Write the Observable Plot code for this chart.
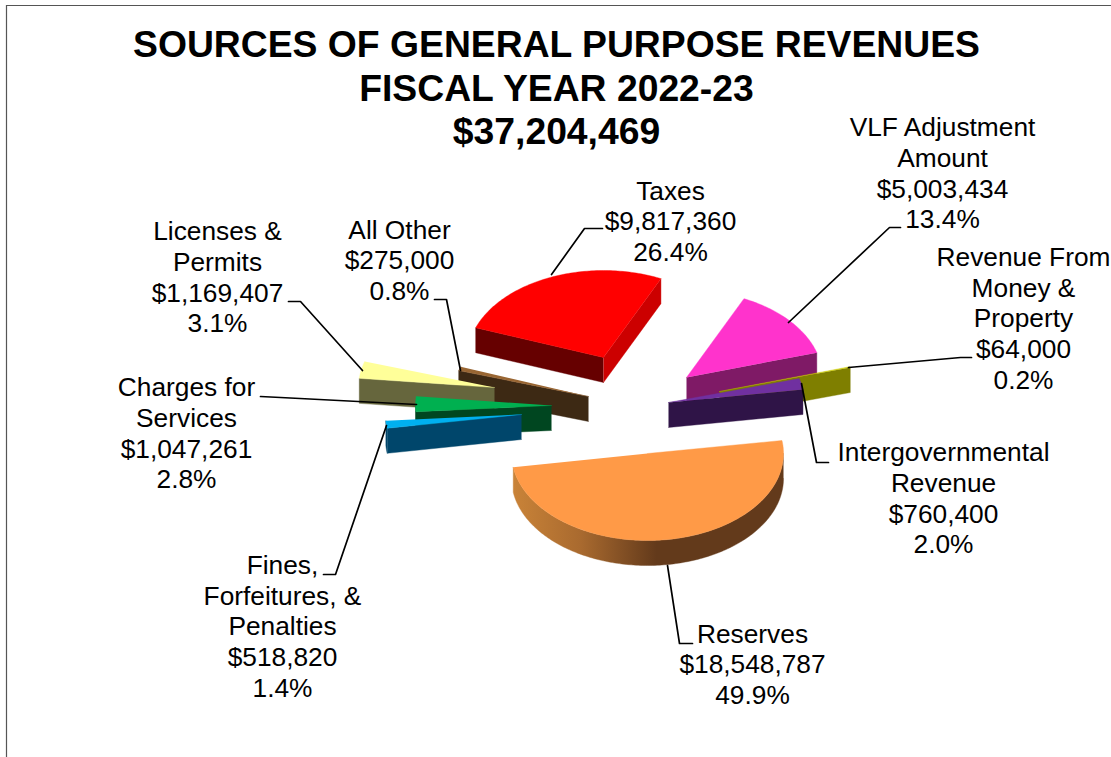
<!DOCTYPE html>
<html>
<head>
<meta charset="utf-8">
<style>html,body{margin:0;padding:0;background:#fff}</style>
<script src="https://cdn.jsdelivr.net/npm/d3@7"></script>
<script src="https://cdn.jsdelivr.net/npm/@observablehq/plot@0.6"></script>
</head>
<body>
<script>
// ---- data ----
const titleLines = ["SOURCES OF GENERAL PURPOSE REVENUES", "FISCAL YEAR 2022-23", "$37,204,469"];
const categories = ["Taxes", "VLF Adjustment\nAmount", "Revenue From\nMoney &\nProperty", "Intergovernmental\nRevenue",
  "Reserves", "Fines,\nForfeitures, &\nPenalties", "Charges for\nServices", "Licenses &\nPermits", "All Other"];
const amounts = [9817360, 5003434, 64000, 760400, 18548787, 518820, 1047261, 1169407, 275000];
const percents = ["26.4%", "13.4%", "0.2%", "2.0%", "49.9%", "1.4%", "2.8%", "3.1%", "0.8%"];

// ---- styles ----
const topColors = ["#ff0000", "#ff33cc", "#cccc00", "#7030a0", "#ff9a47", "#00b0f0", "#00b050", "#ffff99", "#996633"];
const sideColors = ["#660000", "#7f1a66", "#7f7f00", "#2f1447", "url(#rim)", "#00466b", "#004620", "#66663d", "#3d2914"];
const endWallColors = ["#cc0000", "#7f1a66", "#7f7f00", "#2f1447", "#633a1b", "#00466b", "#004620", "#66663d", "#3d2914"];
const drawOrder = [0, 1, 2, 3, 8, 7, 6, 5, 4];

// ---- layout of the exploded pie ----
const pieX = 637, pieY = 409, radiusX = 136, radiusY = 87, depth = 25, firstAngle = -70;
const explodeX = [-34, 49, 82, 31, 10, -116, -86, -143, -49];
const explodeY = [-52, -32, -18, -7, 44, 5, -4, -22, -13];
const labelX = [670, 942, 1023, 943, 752, 282, 186, 217, 399];
const labelY = [220, 172, 317, 497, 663, 625, 432, 276, 259];
const leaderPaths = [
  [[602, 228], [584, 228], [551, 274]],
  [[900, 227], [889, 227], [788, 322]],
  [[971, 357], [960, 357], [848, 367]],
  [[828, 462], [816, 462], [801, 383]],
  [[692, 643], [679, 643], [667, 565]],
  [[323, 574], [335, 574], [386, 425]],
  [[260, 396], [280, 397], [416, 404]],
  [[288, 301], [300, 301], [362, 370]],
  [[434, 299], [446, 299], [460, 370]]
];
const titleY = [45, 89, 132];

// ---- slice geometry from the values ----
const total = d3.sum(amounts);
const rad = Math.PI / 180;
let running = firstAngle;
const slices = amounts.map((v, i) => {
  const a0 = running, a1 = running + v / total * 360;
  running = a1;
  return {i, a0, a1, cx: pieX + explodeX[i], cy: pieY + explodeY[i]};
});
const rimPoint = (s, a, drop = 0) => ({
  x: s.cx + radiusX * Math.sin(a * rad),
  y: s.cy - radiusY * Math.cos(a * rad) + drop
});
const arc = (s, a0, a1, drop = 0) => {
  const n = Math.max(2, Math.ceil(Math.abs(a1 - a0)));
  return d3.range(n + 1).map(k => rimPoint(s, a0 + (a1 - a0) * k / n, drop));
};
const apex = (s, drop = 0) => ({x: s.cx, y: s.cy + drop});
const polygon = (pts, fill) => Plot.line(pts, {x: "x", y: "y", fill, stroke: fill, strokeWidth: 0.4, curve: "linear"});

const sliceMarks = [];
for (const i of drawOrder) {
  const s = slices[i];
  const norm = a => ((a % 360) + 360) % 360;
  // outer rim: the parts facing the viewer (90..270 degrees)
  const lo = Math.max(norm(s.a0), 90), hi = Math.min(norm(s.a0) + (s.a1 - s.a0), 270);
  if (hi > lo) sliceMarks.push(polygon([...arc(s, lo, hi), ...arc(s, hi, lo, depth)], sideColors[i]));
  // radial cut faces
  if (Math.sin(s.a0 * rad) < 0) {
    const p = rimPoint(s, s.a0), q = rimPoint(s, s.a0, depth);
    sliceMarks.push(polygon([apex(s), p, q, apex(s, depth)], sideColors[i]));
  }
  if (Math.sin(s.a1 * rad) > 0) {
    const p = rimPoint(s, s.a1), q = rimPoint(s, s.a1, depth);
    sliceMarks.push(polygon([apex(s), p, q, apex(s, depth)], endWallColors[i]));
  }
  // top surface
  sliceMarks.push(polygon([apex(s), ...arc(s, s.a0, s.a1)], topColors[i]));
}

const labels = categories.map((c, i) => ({
  text: `${c}\n${d3.format("$,")(amounts[i])}\n${percents[i]}`, x: labelX[i], y: labelY[i]
}));
const leaders = leaderPaths.flatMap((p, k) => p.map(([x, y]) => ({k, x, y})));
const titles = titleLines.map((text, i) => ({text, y: titleY[i]}));

const chart = Plot.plot({
  width: 1111, height: 757, margin: 0,
  style: {fontFamily: "'Liberation Sans', Arial, sans-serif", background: "#fff", color: "#000"},
  x: {domain: [0, 1111], range: [0, 1111], axis: null},
  y: {domain: [0, 757], range: [0, 757], axis: null},
  marks: [
    Plot.ruleX([6], {y1: 5, y2: 757, stroke: "#555", strokeWidth: 1.2}),
    Plot.ruleY([5], {x1: 6, x2: 1111, stroke: "#555", strokeWidth: 1.2}),
    ...sliceMarks,
    Plot.line(leaders, {x: "x", y: "y", z: "k", stroke: "#000", strokeWidth: 1.7, curve: "linear"}),
    Plot.text(labels, {x: "x", y: "y", text: "text", fontSize: 26.3, lineHeight: 1.165, lineAnchor: "middle", fill: "#000"}),
    Plot.text(titles, {x: () => 556, y: "y", text: "text", fontSize: 37.3, fontWeight: "bold", lineAnchor: "middle", fill: "#000"})
  ]
});

// gradient used by the Reserves rim
const ns = "http://www.w3.org/2000/svg";
const defs = document.createElementNS(ns, "defs");
const grad = document.createElementNS(ns, "linearGradient");
grad.setAttribute("id", "rim");
[["0", "#c98338"], ["0.25", "#a96a2f"], ["0.53", "#633a1b"], ["1", "#633a1b"]].forEach(([o, c]) => {
  const st = document.createElementNS(ns, "stop");
  st.setAttribute("offset", o);
  st.setAttribute("stop-color", c);
  grad.appendChild(st);
});
defs.appendChild(grad);
chart.insertBefore(defs, chart.firstChild);
document.body.appendChild(chart);
</script>
</body>
</html>
